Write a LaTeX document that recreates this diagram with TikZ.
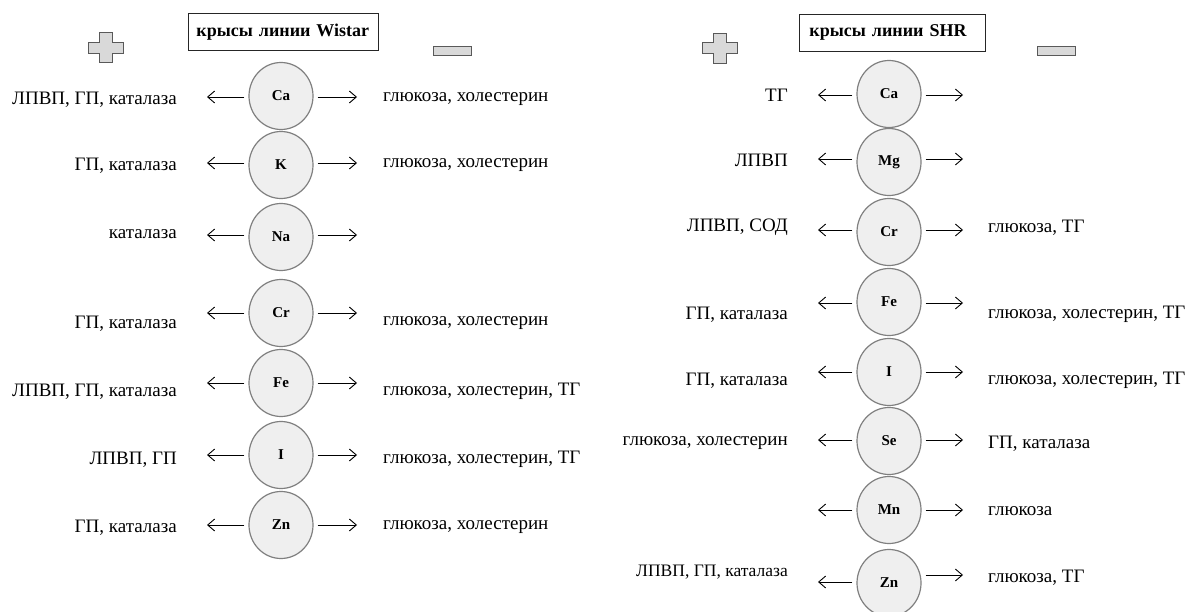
\documentclass[tikz,border=0pt]{standalone}
\usepackage{fontspec}
\setmainfont{Liberation Serif}
\usetikzlibrary{arrows.meta,shapes.geometric}
\definecolor{circfill}{HTML}{EFEFEF}
\definecolor{circline}{HTML}{808080}
\definecolor{signfill}{HTML}{D9D9D9}
\definecolor{signline}{HTML}{595959}
\tikzset{
  elem/.style={ellipse, draw=circline, line width=1.2pt, fill=circfill,
    minimum width=64pt, minimum height=67pt, inner sep=0pt,
    font=\fontsize{15}{17}\selectfont\bfseries},
  arr/.style={-{Straight Barb[length=7pt,width=12pt]}, line width=0.9pt, shorten <=4pt},
  ltxt/.style={anchor=east, inner sep=0pt, yshift=-2.5pt, font=\fontsize{19}{21}\selectfont},
  rtxt/.style={anchor=west, inner sep=0pt, yshift=-2.5pt, font=\fontsize{19}{21}\selectfont},
  hdr/.style={draw=black!85, line width=0.9pt, anchor=north west, align=left,
    minimum height=37pt, font=\fontsize{18}{20}\selectfont\bfseries},
  sign/.style={draw=signline, fill=signfill, line width=1pt},
}
\begin{document}
\begin{tikzpicture}[x=1pt,y=-1pt]
\useasboundingbox[fill=white] (0,0) rectangle (1194,612);

% ---------- headers ----------
\node[hdr, text width=182pt, inner xsep=4pt] (wbox) at (188,13) {\hspace*{4pt}крысы линии Wistar};
\node[hdr, text width=166pt, inner xsep=10pt] (sbox) at (799,14) {крысы линии SHR};

% ---------- plus / minus signs ----------
\foreach \cx/\cy in {105.5/48, 719.5/48.5} {
  \draw[sign, shift={(\cx,\cy)}] (-6.5,-15) -- (6.5,-15) -- (6.5,-5.5) -- (17.5,-5.5)
    -- (17.5,5.5) -- (6.5,5.5) -- (6.5,15) -- (-6.5,15) -- (-6.5,5.5)
    -- (-17.5,5.5) -- (-17.5,-5.5) -- (-6.5,-5.5) -- cycle;
}
\draw[sign] (433,47) rectangle (471,56);
\draw[sign] (1037,47) rectangle (1075,56);

% ---------- Wistar column ----------
\foreach \n/\lab/\cy/\ay in {wca/Ca/96/97, wk/K/165/163, wna/Na/237/235,
    wcr/Cr/313/313, wfe/Fe/383/383, wi/I/455/455, wzn/Zn/525/525} {
  \node[elem] (\n) at (281,\cy) {\lab};
  \coordinate (\n-l) at (207,\ay);
  \coordinate (\n-r) at (357,\ay);
  \draw[arr] (\n.west |- \n-l) -- (\n-l);
  \draw[arr] (\n.east |- \n-r) -- (\n-r);
}
\node[ltxt] (wcaL) at (177,97) {ЛПВП, ГП, каталаза};
\node[rtxt] (wcaR) at (383,97) {глюкоза, холестерин};
\node[ltxt] (wkL) at (177,163) {ГП, каталаза};
\node[rtxt] (wkR) at (383,163) {глюкоза, холестерин};
\node[ltxt] (wnaL) at (177,232) {каталаза};
\node[ltxt] (wcrL) at (177,321) {ГП, каталаза};
\node[rtxt] (wcrR) at (383,321) {глюкоза, холестерин};
\node[ltxt] (wfeL) at (177,389) {ЛПВП, ГП, каталаза};
\node[rtxt] (wfeR) at (383,389) {глюкоза, холестерин, ТГ};
\node[ltxt] (wiL) at (177,457) {ЛПВП, ГП};
\node[rtxt] (wiR) at (383,457) {глюкоза, холестерин, ТГ};
\node[ltxt] (wznL) at (177,525) {ГП, каталаза};
\node[rtxt] (wznR) at (383,525) {глюкоза, холестерин};

% ---------- SHR column ----------
\foreach \n/\lab/\cy/\ay/\by in {sca/Ca/94/95/95, smg/Mg/162/159/159, scr/Cr/232/230/230,
    sfe/Fe/302/303/303, si/I/372/372/372, sse/Se/441/440/440, smn/Mn/510/510/510,
    szn/Zn/583/582/575} {
  \node[elem] (\n) at (889,\cy) {\lab};
  \coordinate (\n-l) at (818,\ay);
  \coordinate (\n-r) at (963,\by);
  \draw[arr] (\n.west |- \n-l) -- (\n-l);
  \draw[arr] (\n.east |- \n-r) -- (\n-r);
}
\node[ltxt] (scaL) at (788,93) {ТГ};
\node[ltxt] (smgL) at (788,158) {ЛПВП};
\node[ltxt] (scrL) at (788,225) {ЛПВП, СОД};
\node[rtxt] (scrR) at (988,225) {глюкоза, ТГ};
\node[ltxt] (sfeL) at (788,312) {ГП, каталаза};
\node[rtxt] (sfeR) at (988,312) {глюкоза, холестерин, ТГ};
\node[ltxt] (siL) at (788,378) {ГП, каталаза};
\node[rtxt] (siR) at (988,378) {глюкоза, холестерин, ТГ};
\node[ltxt] (sseL) at (788,441) {глюкоза, холестерин};
\node[rtxt] (sseR) at (988,441) {ГП, каталаза};
\node[rtxt] (smnR) at (988,509) {глюкоза};
\node[ltxt, font=\fontsize{17.5}{20}\selectfont] (sznL) at (788,570) {ЛПВП, ГП, каталаза};
\node[rtxt] (sznR) at (988,575) {глюкоза, ТГ};
\end{tikzpicture}
\end{document}
